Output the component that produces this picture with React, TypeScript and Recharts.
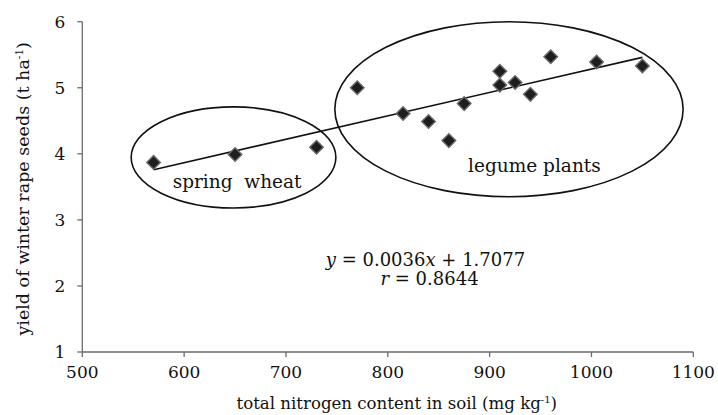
import React from 'react';
import { ScatterChart, Scatter, XAxis, YAxis, ReferenceArea, ReferenceDot } from 'recharts';

const springWheat = [
  { x: 570, y: 3.87 },
  { x: 650, y: 3.99 },
  { x: 730, y: 4.1 },
];

const legumePlants = [
  { x: 770, y: 5.0 },
  { x: 815, y: 4.61 },
  { x: 840, y: 4.49 },
  { x: 860, y: 4.2 },
  { x: 875, y: 4.76 },
  { x: 910, y: 5.25 },
  { x: 910, y: 5.04 },
  { x: 925, y: 5.08 },
  { x: 940, y: 4.9 },
  { x: 960, y: 5.47 },
  { x: 1005, y: 5.39 },
  { x: 1050, y: 5.33 },
];

const trendLine = [
  { x: 570, y: 3.76 },
  { x: 1050, y: 5.46 },
];

const xTicks = [500, 600, 700, 800, 900, 1000, 1100];
const yTicks = [1, 2, 3, 4, 5, 6];

const springEllipse = { x1: 548, x2: 749, y1: 3.18, y2: 4.71 };
const legumeEllipse = { x1: 748, x2: 1090, y1: 3.35, y2: 6.0 };

const groupLabels = [
  { text: 'spring  wheat', x: 652, y: 3.48 },
  { text: 'legume plants', x: 944, y: 3.73 },
];

const equationLines = [
  { text: 'y = 0.0036x + 1.7077', x: 837, y: 2.3 },
  { text: 'r = 0.8644', x: 841, y: 2.01 },
];

const FONT = 'DejaVu Serif';
const AXIS = '#6b6b6b';
const INK = '#111';

const Diamond = (props: any) => {
  const { cx, cy } = props;
  const r = 6.8;
  return (
    <polygon
      points={`${cx},${cy - r} ${cx + r},${cy} ${cx},${cy + r} ${cx - r},${cy}`}
      fill="#1e1e1e"
      stroke="#6a6a6a"
      strokeWidth={1.4}
    />
  );
};

const EllipseShape = (props: any) => {
  const { x, y, width, height } = props;
  return (
    <ellipse
      cx={x + width / 2}
      cy={y + height / 2}
      rx={Math.abs(width) / 2}
      ry={Math.abs(height) / 2}
      fill="none"
      stroke="#111"
      strokeWidth={1.6}
    />
  );
};

const makeTextShape = (text: string, size: number, italicVar: boolean) => (props: any) => {
  const { cx, cy } = props;
  if (italicVar) {
    const eq = text.indexOf('=');
    const v = text.slice(0, eq).trim();
    const rest = text.slice(eq);
    const parts = rest.split('x');
    return (
      <text x={cx} y={cy} textAnchor="middle" fontFamily={FONT} fontSize={size} fill={INK} style={{ whiteSpace: 'pre' }}>
        <tspan fontStyle="italic">{v}</tspan>
        <tspan>{' ' + parts[0]}</tspan>
        {parts.length > 1 && <tspan fontStyle="italic">x</tspan>}
        {parts.length > 1 && <tspan>{parts[1]}</tspan>}
      </text>
    );
  }
  return (
    <text x={cx} y={cy} textAnchor="middle" fontFamily={FONT} fontSize={size} fill={INK} style={{ whiteSpace: 'pre' }}>
      {text}
    </text>
  );
};

const XTitle = (props: any) => {
  const vb = props.viewBox || {};
  const cx = vb.x + vb.width / 2 + 9;
  return (
    <text x={cx} y={409} textAnchor="middle" fontFamily={FONT} fontSize={16.6} fill={INK}>
      <tspan>total nitrogen content in soil (mg kg</tspan>
      <tspan dy={-6} fontSize={10}>-1</tspan>
      <tspan dy={6}>)</tspan>
    </text>
  );
};

const YTitle = (props: any) => {
  const vb = props.viewBox || {};
  const cy = vb.y + vb.height / 2 + 2;
  const x = 29;
  return (
    <text x={x} y={cy} transform={`rotate(-90, ${x}, ${cy})`} textAnchor="middle" fontFamily={FONT} fontSize={17.5} fill={INK}>
      <tspan>yield of winter rape seeds (t ha</tspan>
      <tspan dy={-6} fontSize={10.5}>-1</tspan>
      <tspan dy={6}>)</tspan>
    </text>
  );
};

export default function App() {
  return (
    <div style={{ position: 'absolute', left: 0, top: 0, width: 718, height: 415, background: '#fff' }}>
      <ScatterChart width={718} height={415} margin={{ top: 21.7, right: 24.7, left: 22.3, bottom: 0 }}>
        <XAxis
          type="number"
          dataKey="x"
          domain={[500, 1100]}
          ticks={xTicks}
          allowDataOverflow
          height={63}
          stroke={AXIS}
          strokeWidth={1.3}
          tickSize={5}
          tickMargin={9}
          tick={{ fill: INK, fontSize: 17, fontFamily: FONT }}
          label={{ content: XTitle }}
        />
        <YAxis
          type="number"
          dataKey="y"
          domain={[1, 6]}
          ticks={yTicks}
          allowDataOverflow
          width={60}
          stroke={AXIS}
          strokeWidth={1.3}
          tickSize={5}
          tickMargin={12}
          tick={{ fill: INK, fontSize: 17, fontFamily: FONT }}
          label={{ content: YTitle }}
        />
        <ReferenceArea
          x1={springEllipse.x1}
          x2={springEllipse.x2}
          y1={springEllipse.y1}
          y2={springEllipse.y2}
          ifOverflow="visible"
          shape={EllipseShape}
        />
        <ReferenceArea
          x1={legumeEllipse.x1}
          x2={legumeEllipse.x2}
          y1={legumeEllipse.y1}
          y2={legumeEllipse.y2}
          ifOverflow="visible"
          shape={EllipseShape}
        />
        {groupLabels.map((g) => (
          <ReferenceDot key={g.text} x={g.x} y={g.y} ifOverflow="visible" shape={makeTextShape(g.text, 18.5, false)} />
        ))}
        {equationLines.map((g) => (
          <ReferenceDot key={g.text} x={g.x} y={g.y} ifOverflow="visible" shape={makeTextShape(g.text, 18, true)} />
        ))}
        <Scatter
          data={trendLine}
          line={{ stroke: '#111', strokeWidth: 1.6 }}
          shape={() => <g />}
          isAnimationActive={false}
        />
        <Scatter data={springWheat} shape={Diamond} isAnimationActive={false} />
        <Scatter data={legumePlants} shape={Diamond} isAnimationActive={false} />
      </ScatterChart>
    </div>
  );
}
